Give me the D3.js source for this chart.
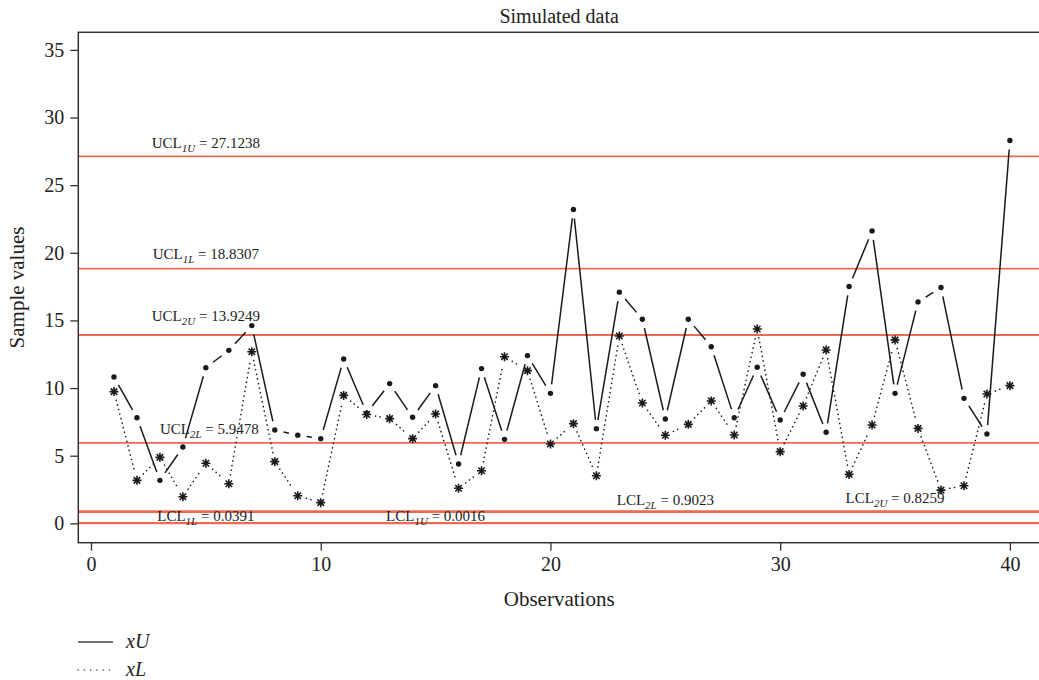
<!DOCTYPE html>
<html>
<head>
<meta charset="utf-8">
<script src="https://cdn.jsdelivr.net/npm/d3@7"></script>
<style>
  body { margin: 0; background: #fff; }
  text { font-family: "Liberation Serif", "DejaVu Serif", serif; fill: #222; }
</style>
</head>
<body>
<div id="chart"></div>
<script>
'use strict';

// observations 1..40
const obs = d3.range(1, 41);

// upper and lower sample values
const xU = [10.82, 7.81, 3.18, 5.64, 11.51, 12.79, 14.62, 6.90, 6.51, 6.26,
            12.15, 8.15, 10.33, 7.84, 10.18, 4.39, 11.44, 6.21, 12.40, 9.61,
            23.20, 7.00, 17.09, 15.09, 7.71, 15.09, 13.06, 7.81, 11.54, 7.64,
            11.02, 6.73, 17.51, 21.62, 9.61, 16.37, 17.43, 9.24, 6.60, 28.30];
const xL = [9.74, 3.18, 4.88, 1.97, 4.44, 2.93, 12.69, 4.56, 2.04, 1.53,
            9.46, 8.05, 7.74, 6.26, 8.08, 2.59, 3.89, 12.32, 11.29, 5.87,
            7.37, 3.52, 13.85, 8.90, 6.51, 7.32, 9.05, 6.53, 14.37, 5.30,
            8.68, 12.82, 3.62, 7.27, 13.56, 7.02, 2.46, 2.78, 9.56, 10.18];

// control limits
const limitNames  = ["UCL", "UCL", "UCL", "UCL", "LCL", "LCL", "LCL", "LCL"];
const limitSubs   = ["1U", "1L", "2U", "2L", "1L", "1U", "2L", "2U"];
const limitValues = [27.1238, 18.8307, 13.9249, 5.9478, 0.0391, 0.0016, 0.9023, 0.8259];
const limitLabelX = [5, 5, 5, 5.15, 5, 15, 25, 35];
const limitLabelY = [27.76, 19.55, 14.98, 6.60, 0.19, 0.19, 1.35, 1.48];

const xTicks = [0, 10, 20, 30, 40];
const yTicks = [0, 5, 10, 15, 20, 25, 30, 35];

const W = 1039, H = 680;
const plot = {left: 78.3, top: 32.3, right: 1040, bottom: 542.7};
const axisColor = "#333";
const limitColor = "#ef6a50";

const svg = d3.select("#chart").append("svg")
  .attr("width", W)
  .attr("height", H);

const x = d3.scaleLinear().domain([-0.553, 41.31]).range([plot.left, plot.right]);
const y = d3.scaleLinear().domain([-1.43, 36.3]).range([plot.bottom, plot.top]);

svg.append("clipPath").attr("id", "plotClip")
  .append("rect")
  .attr("x", plot.left).attr("y", plot.top)
  .attr("width", plot.right - plot.left).attr("height", plot.bottom - plot.top);

// control limit lines
const limits = svg.append("g").attr("clip-path", "url(#plotClip)");
limits.selectAll("line")
  .data(limitValues)
  .join("line")
  .attr("x1", plot.left)
  .attr("x2", plot.right)
  .attr("y1", d => y(d))
  .attr("y2", d => y(d))
  .attr("stroke", limitColor)
  .attr("stroke-width", 1.8);

// limit labels, with subscripts
const labels = svg.append("g").attr("font-size", 15);
limitValues.forEach((v, i) => {
  const t = labels.append("text")
    .attr("x", x(limitLabelX[i]))
    .attr("y", y(limitLabelY[i]))
    .attr("text-anchor", "middle");
  t.append("tspan").text(limitNames[i]);
  t.append("tspan")
    .attr("dy", 4)
    .attr("font-size", 11)
    .attr("font-style", "italic")
    .text(limitSubs[i]);
  t.append("tspan")
    .attr("dy", -4)
    .text(" = " + d3.format(".4f")(v));
});

// type "b" style: segments between points with a gap at each end
function gappedSegments(vals, gap){
  const pts = vals.map((v, i) => [x(obs[i]), y(v)]);
  return d3.pairs(pts).map(([a, b]) => {
    let dx = b[0] - a[0], dy = b[1] - a[1];
    let len = Math.sqrt(dx * dx + dy * dy);
    if(len <= 2 * gap) return null;
    let ux = dx / len, uy = dy / len;
    return [a[0] + ux * gap, a[1] + uy * gap, b[0] - ux * gap, b[1] - uy * gap];
  }).filter(s => s != null);
}

const gap = 9;

svg.append("g").selectAll("line")
  .data(gappedSegments(xU, gap))
  .join("line")
  .attr("x1", d => d[0]).attr("y1", d => d[1])
  .attr("x2", d => d[2]).attr("y2", d => d[3])
  .attr("stroke", "#1a1a1a")
  .attr("stroke-width", 1.5);

svg.append("g").selectAll("line")
  .data(gappedSegments(xL, gap))
  .join("line")
  .attr("x1", d => d[0]).attr("y1", d => d[1])
  .attr("x2", d => d[2]).attr("y2", d => d[3])
  .attr("stroke", "#1a1a1a")
  .attr("stroke-width", 1.6)
  .attr("stroke-linecap", "round")
  .attr("stroke-dasharray", "0.1,4.6");

// points
svg.append("g").selectAll("circle")
  .data(xU)
  .join("circle")
  .attr("cx", (d, i) => x(obs[i]))
  .attr("cy", d => y(d))
  .attr("r", 2.7)
  .attr("fill", "#1a1a1a");

// R pch 8: plus and times overlaid
const r = 4.5, s = r * 0.72;
const starPath = `M${-r},0L${r},0M0,${-r}L0,${r}M${-s},${-s}L${s},${s}M${-s},${s}L${s},${-s}`;
svg.append("g").selectAll("path")
  .data(xL)
  .join("path")
  .attr("transform", (d, i) => `translate(${x(obs[i])},${y(d)})`)
  .attr("d", starPath)
  .attr("stroke", "#1a1a1a")
  .attr("stroke-width", 1.6)
  .attr("fill", "none");

// frame
svg.append("rect")
  .attr("x", plot.left).attr("y", plot.top)
  .attr("width", plot.right - plot.left).attr("height", plot.bottom - plot.top)
  .attr("fill", "none")
  .attr("stroke", axisColor)
  .attr("stroke-width", 1.5);

// axes
const xAxis = svg.append("g")
  .attr("transform", `translate(0,${plot.bottom})`)
  .call(d3.axisBottom(x).tickValues(xTicks).tickSize(8).tickPadding(6));
const yAxis = svg.append("g")
  .attr("transform", `translate(${plot.left},0)`)
  .call(d3.axisLeft(y).tickValues(yTicks).tickSize(8).tickPadding(6));

[xAxis, yAxis].forEach(ax => {
  ax.select(".domain").remove();
  ax.selectAll(".tick line").attr("stroke", axisColor).attr("stroke-width", 1.3);
  ax.selectAll(".tick text")
    .attr("font-family", "Liberation Serif, serif")
    .attr("font-size", 20)
    .attr("fill", "#222");
});

// titles
const midX = (plot.left + plot.right) / 2;
svg.append("text")
  .attr("x", midX).attr("y", 23)
  .attr("text-anchor", "middle")
  .attr("font-size", 20)
  .text("Simulated data");

svg.append("text")
  .attr("x", midX).attr("y", 606)
  .attr("text-anchor", "middle")
  .attr("font-size", 21)
  .text("Observations");

svg.append("text")
  .attr("transform", `translate(24,${(plot.top + plot.bottom) / 2}) rotate(-90)`)
  .attr("text-anchor", "middle")
  .attr("font-size", 21)
  .text("Sample values");

// legend
const legendItems = ["xU", "xL"];
const legend = svg.append("g");
legendItems.forEach((name, i) => {
  const ly = 642 + i * 28;
  legend.append("line")
    .attr("x1", 78).attr("x2", 113)
    .attr("y1", ly).attr("y2", ly)
    .attr("stroke", "#444")
    .attr("stroke-width", i == 0 ? 1.5 : 1.4)
    .attr("stroke-linecap", i == 0 ? "butt" : "round")
    .attr("stroke-dasharray", i == 0 ? null : "0.1,6.2");
  legend.append("text")
    .attr("x", 126).attr("y", ly + 6)
    .attr("font-size", 20)
    .attr("font-style", "italic")
    .text(name);
});
</script>
</body>
</html>
